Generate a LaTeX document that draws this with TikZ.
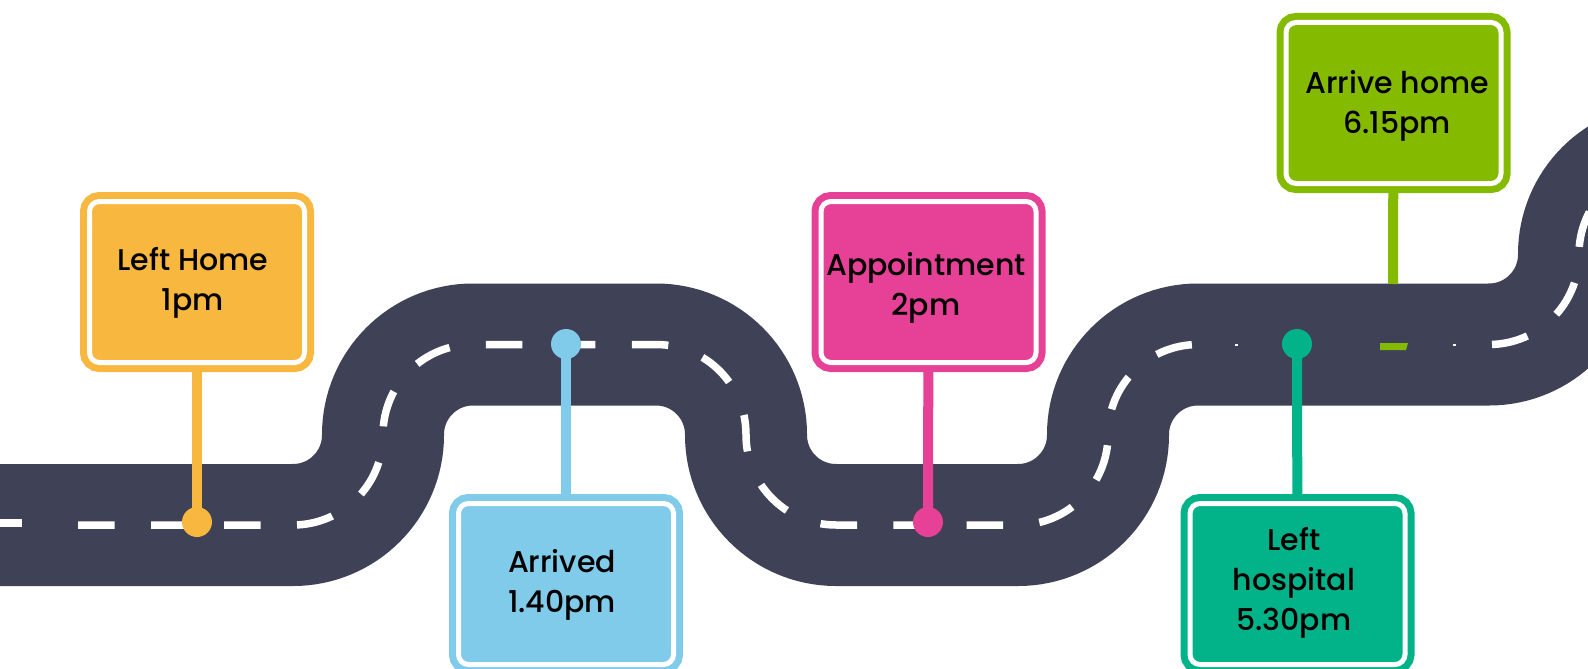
\documentclass[tikz,border=0pt]{standalone}
\usepackage{fontspec}
\IfFontExistsTF{Poppins Medium}{\setmainfont{Poppins Medium}}{\setmainfont{Poppins}[FakeBold=0.8]}
\usetikzlibrary{backgrounds}
\definecolor{road}{RGB}{63,66,86}
\definecolor{cyellow}{RGB}{248,183,63}
\definecolor{cblue}{RGB}{128,202,234}
\definecolor{cpink}{RGB}{230,64,151}
\definecolor{cgreen}{RGB}{132,186,0}
\definecolor{cteal}{RGB}{2,178,137}
\begin{document}
\begin{tikzpicture}[x=1pt,y=-1pt,
  roadline/.style={draw=road, line width=122pt, rounded corners=90pt},
  lane/.style={draw=white, line width=7.5pt, rounded corners=90pt, dash pattern=on 36.6pt off 36.4pt},
  sign/.style={draw=#1, fill=#1, double=white, double distance=5pt, line width=7pt, rounded corners=10pt, minimum width=215pt, minimum height=161pt, inner sep=0pt},
  post/.style={draw=#1, line width=10pt},
  pin/.style={circle, fill=#1, minimum size=30pt, inner sep=0pt},
  signtext/.style={align=center, font=\fontsize{30}{40}\selectfont, inner sep=0pt, text=black}]
\useasboundingbox (0,0) rectangle (1588,669);

% signs
\node[sign=cyellow] (s1) at (197,282) {};
\node[sign=cblue]   (s2) at (566,584) {};
\node[sign=cpink]   (s3) at (928.5,282) {};
\node[sign=cgreen]  (s4) at (1393.5,103) {};
\node[sign=cteal]   (s5) at (1297.5,584) {};

\node[signtext] (t1) at (193,283) {Left Home\\1pm};
\node[signtext] (t2) at (562,584.5) {Arrived\\1.40pm};
\node[signtext] (t3) at (926,288) {Appointment\\2pm};
\node[signtext] (t4) at (1397,106) {Arrive home\\6.15pm};
\node[signtext] (t5) at (1294,583) {Left\\hospital\\5.30pm};

% pins
\node[pin=cyellow] (d1) at (197,522) {};
\node[pin=cblue]   (d2) at (566,344) {};
\node[pin=cpink]   (d3) at (928,522) {};
\node[pin=cteal]   (d5) at (1297,344) {};
\coordinate (e4) at (1393,284);

\begin{scope}[on background layer]
  % road
  \path[roadline] (-10,525) -- (383,525) -- (383,344.5) -- (746,344.5) -- (746,525)
     -- (1108,525) -- (1108,344.5) -- (1579,344.5) -- (1579,164) -- (1760,164);
  % lane markings
  \path[lane] (78,525) -- (383,525) -- (383,344.5) -- (746,344.5) -- (746,525)
     -- (1108,525) -- (1108,344.5) -- (1200,344.5);
  \path[lane, dash phase=70pt] (1489,344.5) -- (1579,344.5) -- (1579,164) -- (1760,164);
  \draw[white, line width=7.5pt] (0,523) -- (22,523);
  \fill[white] (1235,343.5) rectangle (1237.5,346);
  \fill[white] (1453,343.5) rectangle (1455.5,346);
  \fill[cgreen] (1380,343) -- (1408,343) -- (1406,350) -- (1380,350) -- cycle;
  % posts
  \draw[post=cyellow] (d1.center) -- (s1.center);
  \draw[post=cblue]   (d2.center) -- (s2.center);
  \draw[post=cpink]   (d3.center) -- (s3.center);
  \draw[post=cgreen]  (s4.center) -- (e4);
  \draw[post=cteal]   (d5.center) -- (s5.center);
\end{scope}
\end{tikzpicture}
\end{document}
